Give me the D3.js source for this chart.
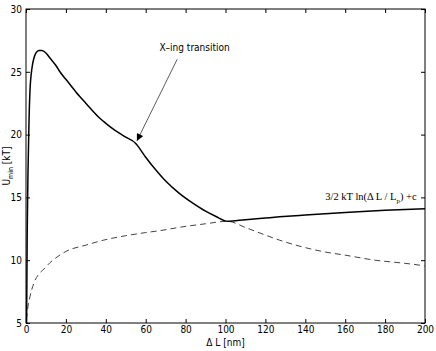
<!DOCTYPE html>
<html>
<head>
<meta charset="utf-8">
<script src="https://cdn.jsdelivr.net/npm/d3@7"></script>
<style>
  body { margin: 0; background: #fff; }
  svg { display: block; }
  .tick text { font-family: "Liberation Sans Narrow", "DejaVu Sans Condensed", Arial, sans-serif; font-size: 10px; fill: #000; }
</style>
</head>
<body>
<svg id="chart" width="436" height="351"></svg>
<script>
// solid curve: U_min vs delta L (nm)
const solidX = [0.3, 0.6, 1, 1.5, 2, 3, 4, 5, 6.5, 8, 10, 12, 15, 17, 20, 25, 30, 37, 40, 45, 50, 55, 56,
                60, 65, 70, 77, 84, 90, 95, 101, 110, 120, 127, 140, 160, 180, 200];
const solidY = [5, 12, 17, 21, 23.5, 25.3, 26.1, 26.5, 26.7, 26.7, 26.5, 26.1, 25.5, 25.0, 24.4, 23.4, 22.5, 21.3, 20.9, 20.3, 19.8, 19.3, 19.1,
                18.2, 17.2, 16.3, 15.3, 14.5, 13.9, 13.5, 13.1, 13.23, 13.36, 13.45, 13.59, 13.79, 13.97, 14.1];

// dashed curve
const dashX = [0.2, 1, 2, 4, 6, 9, 12, 16, 20, 30, 39, 50, 60, 67, 77, 90, 101, 110, 120, 127, 140, 150, 160, 175, 190, 200];
const dashY = [5.3, 6.3, 7.1, 8.2, 8.8, 9.3, 9.8, 10.3, 10.7, 11.2, 11.6, 11.95, 12.2, 12.35, 12.62, 12.9, 13.1, 12.6, 12.0, 11.6, 11.0, 10.65, 10.4, 10.0, 9.75, 9.55];

const xTicks = [0, 20, 40, 60, 80, 100, 120, 140, 160, 180, 200];
const yTicks = [5, 10, 15, 20, 25, 30];

const svg = d3.select('#chart');
const margin = {left: 26, top: 9, right: 11, bottom: 28};
const W = 436 - margin.left - margin.right;
const H = 351 - margin.top - margin.bottom;

const g = svg.append('g').attr('transform', `translate(${margin.left},${margin.top})`);

const x = d3.scaleLinear().domain([0, 200]).range([0, W]);
const y = d3.scaleLinear().domain([5, 30]).range([H, 0]);

// axes with inward ticks, box style
const fontFam = '"Liberation Sans Narrow", "DejaVu Sans Condensed", Arial, sans-serif';
g.append('g').attr('transform', `translate(0,${H})`)
  .call(d3.axisBottom(x).tickValues(xTicks).tickSizeInner(-4).tickSizeOuter(0).tickPadding(3))
  .call(a => a.select('.domain').remove());
g.append('g')
  .call(d3.axisLeft(y).tickValues(yTicks).tickSizeInner(-4).tickSizeOuter(0).tickPadding(4))
  .call(a => a.select('.domain').remove());
g.append('g')
  .call(d3.axisTop(x).tickValues(xTicks).tickSizeInner(-4).tickSizeOuter(0).tickFormat(''))
  .call(a => a.select('.domain').remove());
g.append('g').attr('transform', `translate(${W},0)`)
  .call(d3.axisRight(y).tickValues(yTicks).tickSizeInner(-4).tickSizeOuter(0).tickFormat(''))
  .call(a => a.select('.domain').remove());

g.append('rect').attr('x', 0).attr('y', 0).attr('width', W).attr('height', H)
  .attr('fill', 'none').attr('stroke', '#000').attr('stroke-width', 1);

const line = d3.line().x(d => x(d[0])).y(d => y(d[1])).curve(d3.curveMonotoneX);

g.append('path')
  .datum(d3.zip(dashX, dashY))
  .attr('d', line)
  .attr('fill', 'none')
  .attr('stroke', '#444')
  .attr('stroke-width', 1)
  .attr('stroke-dasharray', '6,4');

g.append('path')
  .datum(d3.zip(solidX, solidY))
  .attr('d', line)
  .attr('fill', 'none')
  .attr('stroke', '#000')
  .attr('stroke-width', 1.5);

// annotation arrow
svg.append('defs').append('marker')
  .attr('id', 'arr').attr('viewBox', '0 0 10 10').attr('refX', 10).attr('refY', 5)
  .attr('markerWidth', 9).attr('markerHeight', 7).attr('orient', 'auto')
  .attr('markerUnits', 'userSpaceOnUse')
  .append('path').attr('d', 'M0,0 L10,5 L0,10 z').attr('fill', '#000');

g.append('line')
  .attr('x1', x(75.8)).attr('y1', y(26))
  .attr('x2', x(55.6)).attr('y2', y(19.5))
  .attr('stroke', '#333').attr('stroke-width', 0.8)
  .attr('marker-end', 'url(#arr)');

g.append('text')
  .attr('x', x(84.5)).attr('y', 42)
  .attr('text-anchor', 'middle')
  .attr('font-family', fontFam).attr('font-size', 10)
  .text('X\u2013ing transition');

// formula label (serif)
const lbl = g.append('text')
  .attr('x', x(150)).attr('y', y(15) + 3)
  .attr('font-family', '"Liberation Serif", "Times New Roman", serif').attr('font-size', 10.5);
lbl.append('tspan').text('3/2 kT ln(\u0394 L / L');
lbl.append('tspan').attr('dy', 3).attr('font-size', 7).text('p');
lbl.append('tspan').attr('dy', -3).text(') +c');

// axis labels
svg.append('text')
  .attr('x', margin.left + x(100)).attr('y', 346)
  .attr('text-anchor', 'middle')
  .attr('font-family', fontFam).attr('font-size', 10)
  .text('\u0394 L [nm]');

const yl = svg.append('text')
  .attr('transform', `translate(10,${margin.top + y(17.5)}) rotate(-90)`)
  .attr('text-anchor', 'middle')
  .attr('font-family', fontFam).attr('font-size', 10);
yl.append('tspan').text('U');
yl.append('tspan').attr('dy', 3).attr('font-size', 7).text('min');
yl.append('tspan').attr('dy', -3).text(' [kT]');
</script>
</body>
</html>
